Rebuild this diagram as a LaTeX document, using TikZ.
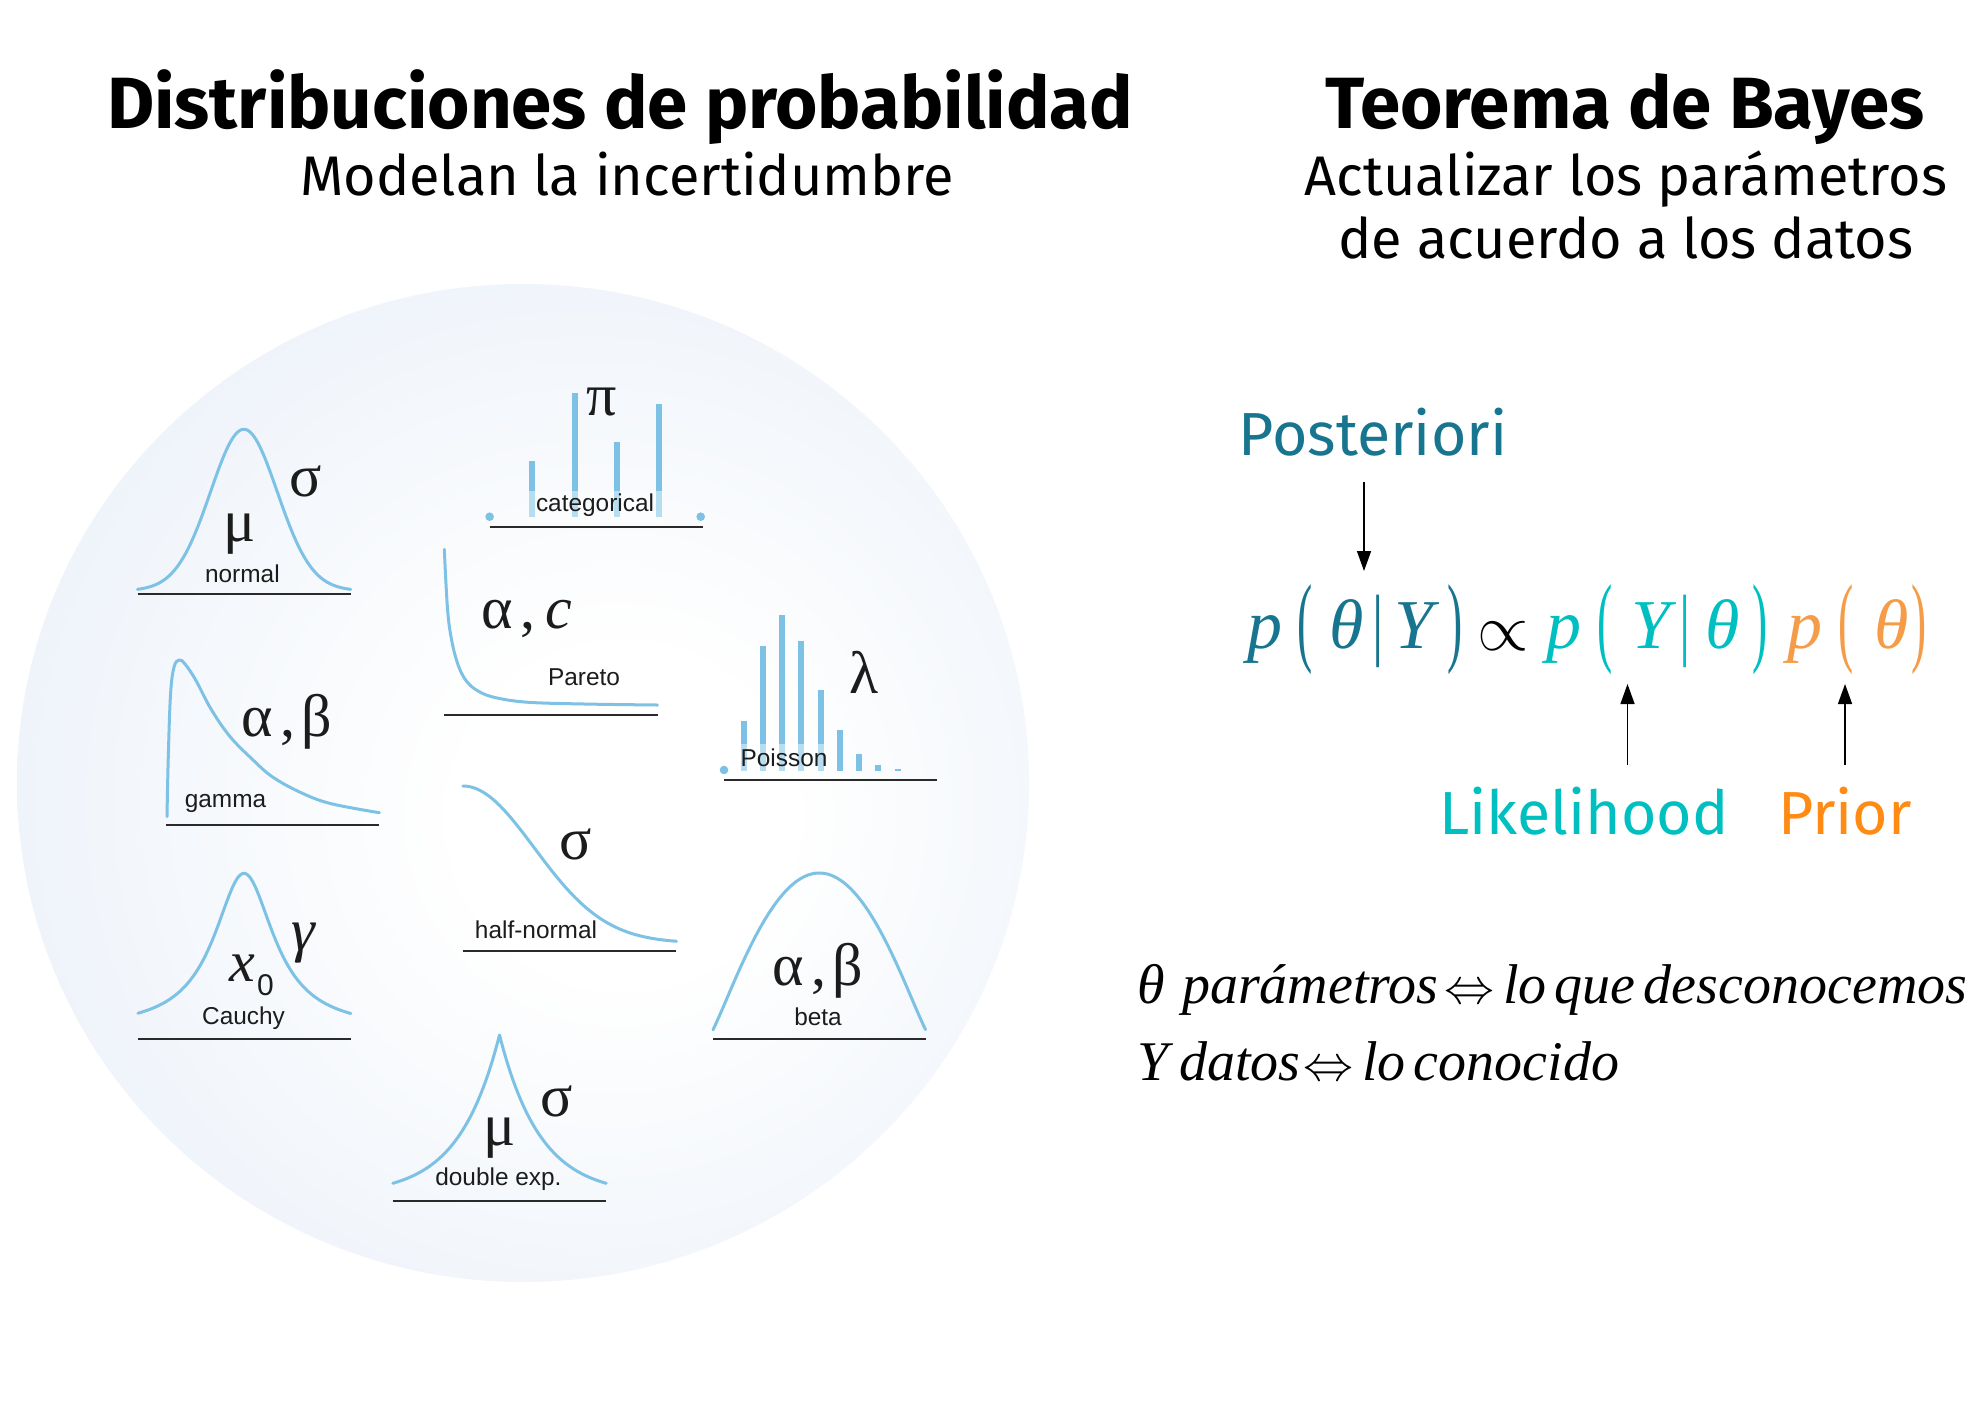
\documentclass[tikz,border=0pt]{standalone}
\usepackage{fix-cm}
\usepackage{fontspec}
\usetikzlibrary{arrows.meta}
\newfontfamily\ubu{Fira Sans}
\newfontfamily\helv{Liberation Sans}
\newfontfamily\tms{Liberation Serif}
\definecolor{discedge}{HTML}{DDE7F5}
\definecolor{curvec}{HTML}{7DC2E5}
\definecolor{axisc}{HTML}{2A2A2A}
\definecolor{postc}{HTML}{17758F}
\definecolor{likc}{HTML}{00BFC1}
\definecolor{priorc}{HTML}{FF8A14}
\definecolor{priorf}{HTML}{F59C48}
\definecolor{inkc}{HTML}{1C1C1C}
\pgfdeclareradialshading{discshade}{\pgfpoint{6bp}{-2bp}}{color(0bp)=(white); color(8bp)=(white); color(50bp)=(discedge)}
\tikzset{
  curvel/.style={draw=curvec, line width=1.5pt, line join=round, line cap=round},
  axisl/.style={draw=axisc, line width=1pt},
  barl/.style={draw=curvec, line width=3pt},
  bandf/.style={fill=white, fill opacity=0.45},
  pdot/.style={fill=curvec},
  lbl/.style={font=\helv\fontsize{12.2}{14}\selectfont, text=inkc, inner sep=0pt, anchor=base},
  grk/.style={font=\tms\fontsize{30}{34}\selectfont, text=inkc, inner sep=0pt, anchor=base},
  ttl/.style={font=\ubu\bfseries\fontsize{36.3}{40}\selectfont, inner sep=0pt, anchor=base},
  sub/.style={font=\ubu\fontsize{27.9}{32}\selectfont, inner sep=0pt, anchor=base},
  tag/.style={font=\ubu\fontsize{30.4}{34}\selectfont, inner sep=0pt, anchor=base},
  eqg/.style={font=\tms\itshape\fontsize{35}{40}\selectfont, inner sep=0pt, anchor=base},
  eqp/.style={font=\tms\fontsize{35}{40}\selectfont, inner sep=0pt, anchor=center},
  btx/.style={font=\tms\itshape\fontsize{28}{32}\selectfont, inner sep=0pt, anchor=base west},
  iff/.style={font=\fontsize{25}{28}\selectfont, inner sep=0pt, anchor=base west},
  arr/.style={draw=black, line width=0.75pt, -{Triangle[length=10pt,width=7pt]}}
}
\newcommand{\lp}{\scalebox{0.65}[1.42]{(}}
\newcommand{\rp}{\scalebox{0.65}[1.42]{)}}
\newcommand{\vb}{\scalebox{0.8}[1.14]{|}}
\newcommand{\tsp}{\spaceskip=4pt plus 1pt\relax}
\begin{document}
\begin{tikzpicture}[x=0.5pt,y=-0.5pt]
\useasboundingbox (0,0) rectangle (1984,1403);
\fill[white] (0,0) rectangle (1984,1403);

% disc
\shade[shading=discshade] (523,783) ellipse [x radius=506, y radius=499];

% titles
\node[ttl] (t1) at (620,128.3) {Distribuciones de probabilidad};
\node[sub] (s1) at (627,195) {Modelan la incertidumbre};
\node[ttl] (t2) at (1625,128.3) {Teorema de Bayes};
\node[sub] (s2a) at (1626,195) {Actualizar los parámetros};
\node[sub] (s2b) at (1626,258.3) {de acuerdo a los datos};

% ---- normal
\draw[curvel] plot[domain=137.5:350.7, samples=120] (\x, {592 - 150*exp(-0.5*((\x-243.9)/34)^2) - 12.7/(1+((\x-243.9)/40)^2)});
\draw[axisl] (137.5,594) -- (350.7,594);
\node[lbl] (nrm) at (242.4,582.3) {normal};
\node[grk] (nmu) at (239.7,541.7) {μ};
\node[grk] (nsig) at (305.6,496.7) {σ};

% ---- categorical
\foreach \bx/\bt in {532.3/461, 575.3/393.3, 617.3/442.3, 659.3/404.3}
  \draw[barl] (\bx,516.7) -- (\bx,\bt);
\fill[bandf] (528.3,491) rectangle (663.3,521.7);
\fill[pdot] (489.6,516.7) circle (4.3);
\fill[pdot] (700.7,516.7) circle (4.3);
\draw[axisl] (489.6,526.7) -- (702.7,526.7);
\node[lbl] (cat) at (595,511.7) {categorical};
\node[grk] (cpi) at (602,415) {π};

% ---- Pareto
\draw[curvel] plot[smooth, tension=0.6] coordinates {(444.3,549.3) (447.6,610) (452,642) (458.5,666) (466.4,681) (478,691) (495,697.5) (527.1,702.2) (584.3,704) (657.5,705)};
\draw[axisl] (444.3,715) -- (657.5,715);
\node[grk] (pac) at (526.7,628.3) {α\kern4pt,\kern5pt\textit{c}};
\node[lbl] (par) at (584,685) {Pareto};

% ---- gamma
\draw[curvel] plot[smooth, tension=0.6] coordinates {(167,816.7) (168.2,760) (170.5,695) (174,667) (179.2,660) (185,664) (195.7,680) (211,709) (230.1,736.7) (253.1,760) (272.2,776.7) (299,791.7) (329.6,803.3) (379.4,812.7)};
\draw[axisl] (165.8,825) -- (379.4,825);
\node[lbl] (gam) at (225.5,807.3) {gamma};
\node[grk] (gab) at (286.5,736.7) {α\kern4pt,\kern3ptβ};

% ---- half-normal
\draw[curvel] plot[domain=462.9:676.4, samples=100] (\x, {943 - 157*exp(-0.5*((\x-462.9)/71.3)^2)});
\draw[axisl] (462.9,951) -- (676.4,951);
\node[lbl] (hn) at (536,938.3) {half-normal};
\node[grk] (hsig) at (576,859.3) {σ};

% ---- Poisson
\foreach \bx/\bt in {744.3/721, 763.3/646, 782.3/615, 801.3/640.7, 821.3/690, 840.3/730, 859.3/754, 878.3/765, 898.3/769.3}
  \draw[barl] (\bx,770.7) -- (\bx,\bt);
\fill[bandf] (732.7,744) rectangle (836,775);
\fill[pdot] (724,770) circle (4.3);
\draw[axisl] (724,780) -- (937.3,780);
\node[lbl] (poi) at (784,766.7) {Poisson};
\node[grk] (plam) at (863.7,693.3) {λ};

% ---- Cauchy
\draw[curvel] plot[domain=137.9:350.9, samples=120] (\x, {1030 - 156.7/(1+((\x-244)/36.7)^2)});
\draw[axisl] (137.9,1039.3) -- (350.9,1039.3);
\node[lbl] (cau) at (243.5,1024) {Cauchy};
\node[grk, font=\tms\itshape\fontsize{29}{32}\selectfont] (cx) at (242,981.7) {x};
\node[lbl, font=\helv\fontsize{15}{16}\selectfont] (cx0) at (265.5,995) {0};
\node[grk, font=\tms\itshape\fontsize{30}{32}\selectfont] (cgam) at (303,950) {γ};

% ---- beta
\draw[curvel] plot[domain=713:925.5, samples=100] (\x, {1037 - 164*(1-((\x-819.3)/110.4)^2)^1.2});
\draw[axisl] (713,1039.3) -- (925.5,1039.3);
\node[grk] (bab) at (817.6,985) {α\kern4pt,\kern3ptβ};
\node[lbl] (bet) at (818,1025.7) {beta};

% ---- double exponential
\draw[curvel] plot[domain=392.8:499.5, samples=60] (\x, {1195 - 160*exp(-(499.5-\x)/40.8)})
  -- plot[domain=499.5:606.3, samples=60] (\x, {1195 - 160*exp(-(\x-499.5)/40.8)});
\draw[axisl] (392.8,1201) -- (606.3,1201);
\node[lbl] (dex) at (498.4,1185) {double exp.};
\node[grk] (dmu) at (500,1145) {μ};
\node[grk] (dsig) at (556.4,1116.7) {σ};

% ---- Bayes
\node[tag, text=postc] (post) at (1373,455) {Posteriori};
\node[tag, text=likc] (lik) at (1584,834) {Likelihood};
\node[tag, text=priorc] (pri) at (1845,834) {Prior};

% posterior
\node[eqg, text=postc] (ep1) at (1265,648) {p};
\node[eqp, text=postc] (ep2) at (1305,629.2) {\lp};
\node[eqg, text=postc] (ep3) at (1346.5,648) {θ};
\node[eqp, text=postc] (ep4) at (1378,631.7) {\vb};
\node[eqg, text=postc] (ep5) at (1414,648) {Y};
\node[eqp, text=postc] (ep6) at (1455,629.2) {\rp};
\node[inner sep=0pt, anchor=base, font=\fontsize{33}{33}\selectfont] (eprop) at (1503,650) {$\propto$};
% likelihood
\node[eqg, text=likc] (el1) at (1564,648) {p};
\node[eqp, text=likc] (el2) at (1605.5,629.2) {\lp};
\node[eqg, text=likc] (el3) at (1650.5,648) {Y};
\node[eqp, text=likc] (el4) at (1685,631.7) {\vb};
\node[eqg, text=likc] (el5) at (1723,648) {θ};
\node[eqp, text=likc] (el6) at (1760.5,629.2) {\rp};
% prior
\node[eqg, text=priorf] (er1) at (1805,648) {p};
\node[eqp, text=priorf] (er2) at (1846.5,629.2) {\lp};
\node[eqg, text=priorf] (er3) at (1891.5,648) {θ};
\node[eqp, text=priorf] (er4) at (1919.5,629.2) {\rp};

\coordinate (pa1) at (1364,482);
\coordinate (pa2) at (1364,571);
\coordinate (la1) at (1627.5,765);
\coordinate (la2) at (1627.5,684);
\coordinate (ra1) at (1845,765);
\coordinate (ra2) at (1845,684);
\draw[arr] (pa1) -- (pa2);
\draw[arr] (la1) -- (la2);
\draw[arr] (ra1) -- (ra2);

% legend lines
\node[btx] (bth) at (1136.6,1003.3) {θ};
\node[btx] (bpar) at (1181.7,1003.3) {parámetros};
\node[iff] (biff1) at (1444,1003.3) {$\Leftrightarrow$};
\node[btx] (blqd) at (1503,1003.3) {\tsp lo que desconocemos};
\node[btx] (bY) at (1136.6,1080) {Y};
\node[btx] (bdat) at (1179,1080) {datos};
\node[iff] (biff2) at (1303,1080) {$\Leftrightarrow$};
\node[btx] (bloc) at (1362,1080) {\tsp lo conocido};
\end{tikzpicture}
\end{document}
